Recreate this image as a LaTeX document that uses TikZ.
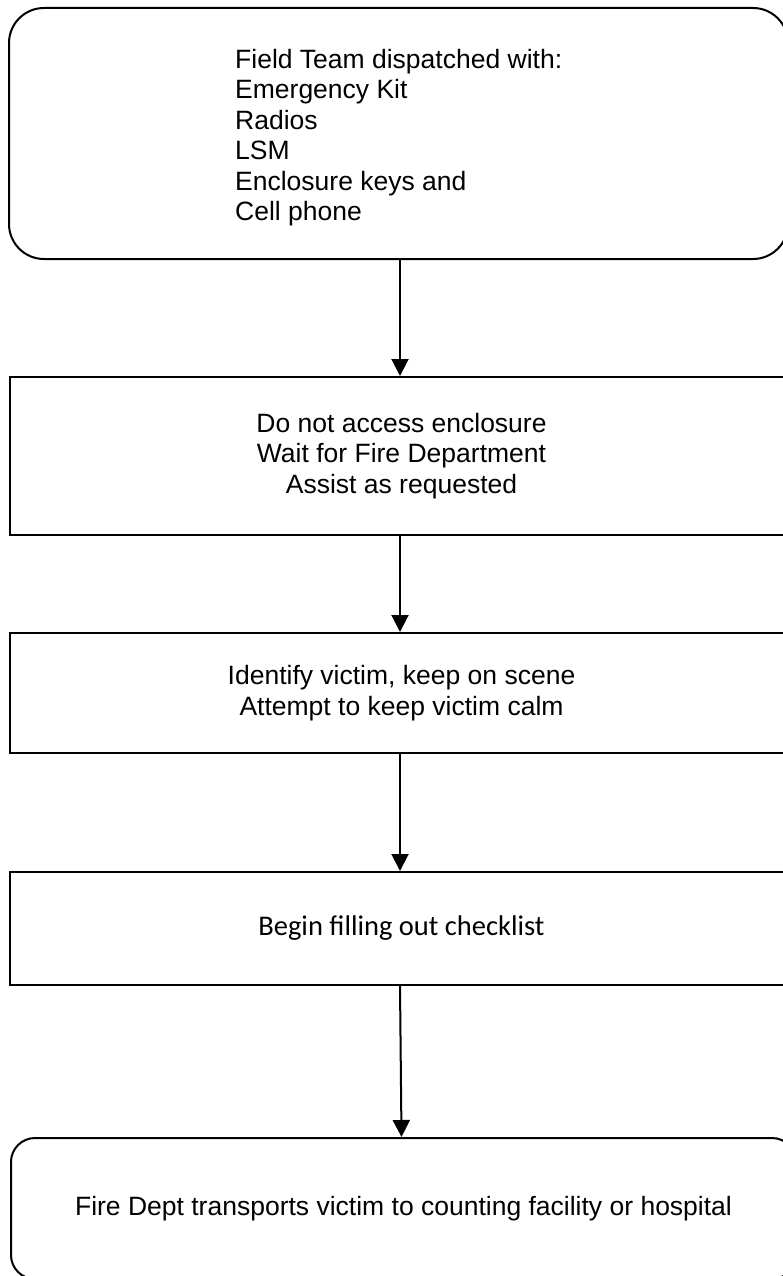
\documentclass[tikz,border=0pt]{standalone}
\usepackage{fontspec}
\setmainfont{Liberation Sans}
\newfontfamily\calib{Carlito}
\usetikzlibrary{arrows.meta}
\begin{document}
\begin{tikzpicture}[x=1pt,y=-1pt,
  box/.style={draw, line width=2pt, rectangle, inner sep=0pt, anchor=north west},
  rbox/.style={box, rounded corners=35pt},
  flow/.style={-{Triangle[width=17pt,length=17pt]}, line width=2pt},
  txt/.style={font=\fontsize{26.5}{30.5}\selectfont, align=center}]
\useasboundingbox (0,0) rectangle (783,1276);
\coordinate (ax) at (400,0);
\coordinate (ax2) at (401.5,0);
\node[rbox, minimum width=779pt, minimum height=251pt] (b1) at (8,7) {};
\node[font=\fontsize{26.5}{30.5}\selectfont, align=left, anchor=north west, inner sep=0pt] (t1) at (235,49)
  {Field Team dispatched with:\\Emergency Kit\\Radios\\LSM\\Enclosure keys and\\Cell phone};
\node[box, txt, minimum width=783pt, minimum height=158pt] (b2) at (9,376)
  {Do not access enclosure\\Wait for Fire Department\\Assist as requested};
\node[box, txt, minimum width=783pt, minimum height=120pt] (b3) at (9,632)
  {Identify victim, keep on scene\\Attempt to keep victim calm};
\node[box, font=\calib\fontsize{28.5}{34}\selectfont, minimum width=783pt, minimum height=113pt] (b4) at (9,871)
  {Begin filling out checklist};
\node[box, txt, rounded corners=24pt, minimum width=785pt, minimum height=141pt] (b5) at (10,1137)
  {Fire Dept transports victim to counting facility or hospital};
\draw[flow] (b1.south -| ax) -- (b2.north -| ax);
\draw[flow] (b2.south -| ax) -- (b3.north -| ax);
\draw[flow] (b3.south -| ax) -- (b4.north -| ax);
\draw[flow] (b4.south -| ax) -- (b5.north -| ax2);
\end{tikzpicture}
\end{document}
